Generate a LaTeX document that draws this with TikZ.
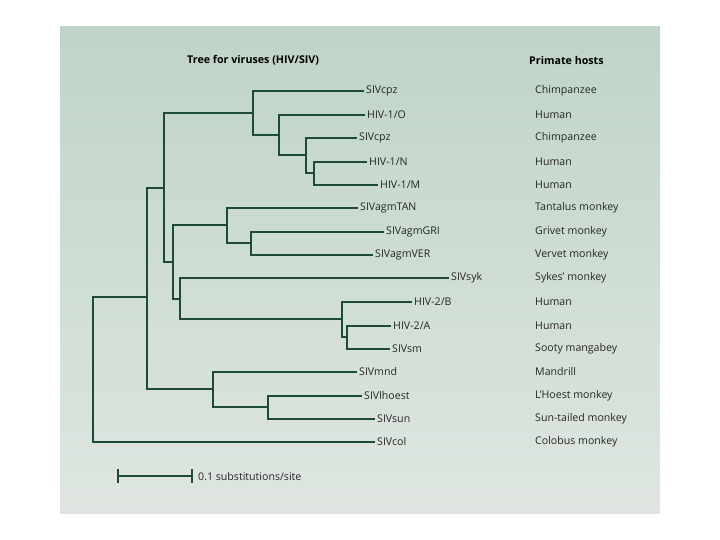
\documentclass[tikz,border=0pt]{standalone}
\usepackage{fontspec}
\setmainfont{Open Sans}
\definecolor{bgtop}{HTML}{BFD4C7}
\definecolor{bgbot}{HTML}{DFE6E1}
\definecolor{branch}{HTML}{1D4B38}
\definecolor{txt}{HTML}{262626}
\tikzset{
  br/.style={draw=branch,line width=1.3pt,line cap=rect},
  brb/.style={draw=branch,line width=1.9pt,line cap=rect},
  leaf/.style={anchor=west,inner xsep=3pt,inner ysep=0pt,text=txt,font=\fontsize{10.6}{12}\selectfont},
  host/.style={anchor=west,inner sep=0pt,text=txt,font=\fontsize{10.6}{12}\selectfont},
  head/.style={anchor=west,inner sep=0pt,text=black,font=\fontsize{10.7}{12}\selectfont\bfseries},
}
\begin{document}
\begin{tikzpicture}[x=1pt,y=-1pt]
\useasboundingbox (0,0) rectangle (720,540);
\shade[top color=bgtop,bottom color=bgbot] (60,27) rectangle (660,513);
% headings
\node[head] (title) at (187,60) {Tree for viruses (HIV/SIV)};
\node[head] (hosts) at (529,60) {Primate hosts};
% internal nodes
\coordinate (R) at (93,297);
\coordinate (A) at (147,297);
\coordinate (B) at (164,188);
\coordinate (C) at (253,113);
\coordinate (E) at (279,135);
\coordinate (F) at (306,155);
\coordinate (G) at (314,173);
\coordinate (D) at (173,262);
\coordinate (H) at (227,225);
\coordinate (J) at (251,243);
\coordinate (I) at (180,299);
\coordinate (K) at (342,319);
\coordinate (L) at (347,337);
\coordinate (M) at (213,389);
\coordinate (N) at (268,407);
% leaves
\node[leaf] (l1) at (363,91) {SIVcpz};
\node[leaf] (l2) at (364,115) {HIV-1/O};
\node[leaf] (l3) at (356,138) {SIVcpz};
\node[leaf] (l4) at (366,162) {HIV-1/N};
\node[leaf] (l5) at (377,185) {HIV-1/M};
\node[leaf] (l6) at (357,208) {SIVagmTAN};
\node[leaf] (l7) at (383,232) {SIVagmGRI};
\node[leaf] (l8) at (372,255) {SIVagmVER};
\node[leaf] (l9) at (448,278) {SIVsyk};
\node[leaf] (l10) at (411,302) {HIV-2/B};
\node[leaf] (l11) at (390,326) {HIV-2/A};
\node[leaf] (l12) at (389,349) {SIVsm};
\node[leaf] (l13) at (356,372) {SIVmnd};
\node[leaf] (l14) at (361,396) {SIVlhoest};
\node[leaf] (l15) at (374,419) {SIVsun};
\node[leaf] (l16) at (374,442) {SIVcol};
% hosts
\node[host] (h1) at (535,91) {Chimpanzee};
\node[host] (h2) at (535,115) {Human};
\node[host] (h3) at (535,138) {Chimpanzee};
\node[host] (h4) at (535,162) {Human};
\node[host] (h5) at (535,185) {Human};
\node[host] (h6) at (535,208) {Tantalus monkey};
\node[host] (h7) at (535,232) {Grivet monkey};
\node[host] (h8) at (535,255) {Vervet monkey};
\node[host] (h9) at (535,278) {Sykes' monkey};
\node[host] (h10) at (535,302) {Human};
\node[host] (h11) at (535,326) {Human};
\node[host] (h12) at (535,349) {Sooty mangabey};
\node[host] (h13) at (535,372) {Mandrill};
\node[host] (h14) at (535,396) {L'Hoest monkey};
\node[host] (h15) at (535,419) {Sun-tailed monkey};
\node[host] (h16) at (535,442) {Colobus monkey};
% branches
\draw[brb] (R) -- (A);
\draw[brb] (R) |- (l16.west);
\draw[brb] (A) |- (B);
\draw[brb] (A) |- (M);
\draw[brb] (B) |- (C);
\draw[br] (B) |- (D);
\draw[brb] (C) |- (l1.west);
\draw[brb] (C) |- (E);
\draw[brb] (E) |- (l2.west);
\draw[brb] (E) |- (F);
\draw[brb] (F) |- (l3.west);
\draw[brb] (F) |- (G);
\draw[brb] (G) |- (l4.west);
\draw[brb] (G) |- (l5.west);
\draw[br] (D) |- (H);
\draw[brb] (D) |- (I);
\draw[br] (H) |- (l6.west);
\draw[br] (H) |- (J);
\draw[br] (J) |- (l7.west);
\draw[br] (J) |- (l8.west);
\draw[brb] (I) |- (l9.west);
\draw[br] (I) |- (K);
\draw[br] (K) |- (l10.west);
\draw[br] (K) |- (L);
\draw[br] (L) |- (l11.west);
\draw[br] (L) |- (l12.west);
\draw[brb] (M) |- (l13.west);
\draw[brb] (M) |- (N);
\draw[brb] (N) |- (l14.west);
\draw[brb] (N) |- (l15.west);
% scale bar
\coordinate (s1) at (118,476);
\coordinate (s2) at (192,476);
\draw[br,line width=1.6pt,line cap=butt] (s1) -- (s2);
\draw[br,line width=1.3pt,line cap=butt] ([yshift=-7pt]s1) -- ([yshift=7pt]s1);
\draw[br,line width=1.3pt,line cap=butt] ([yshift=-7pt]s2) -- ([yshift=7pt]s2);
\node[host] (scale) at (198,477) {0.1 substitutions/site};
\end{tikzpicture}
\end{document}
